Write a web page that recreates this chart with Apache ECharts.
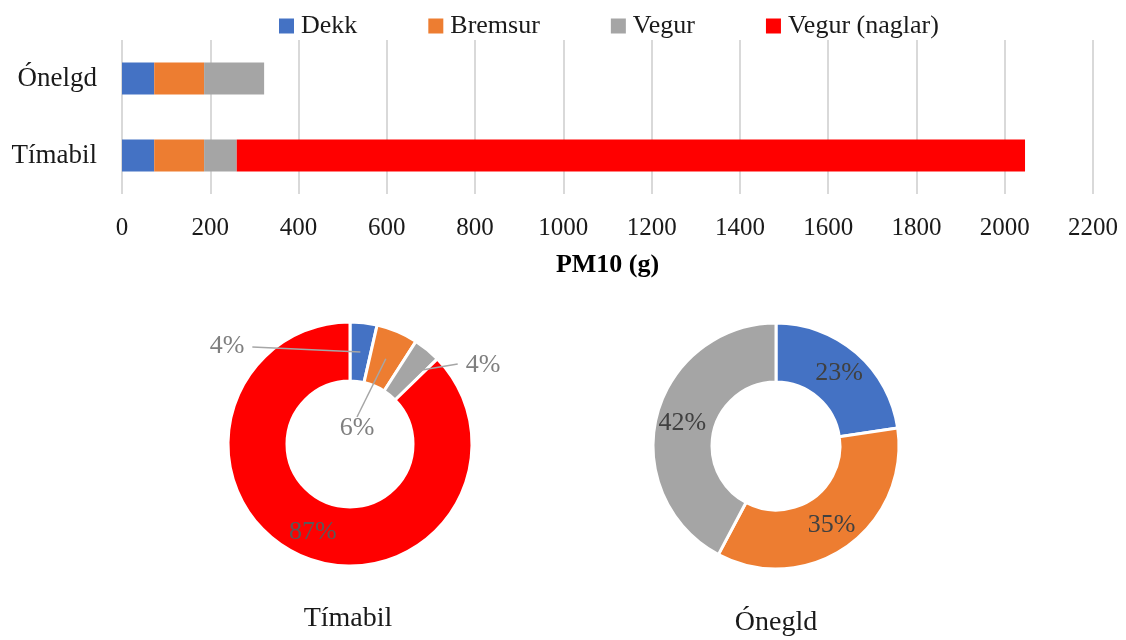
<!DOCTYPE html>
<html>
<head>
<meta charset="utf-8">
<script src="https://cdn.jsdelivr.net/npm/echarts@6/dist/echarts.min.js"></script>
<style>
  html, body { margin: 0; padding: 0; background: #fff; }
  #main { width: 1126px; height: 640px; }
</style>
</head>
<body>
<div id="main"></div>
<script>
// flokkar og gildi (PM10 í grömmum)
const categories = ['Ónelgd', 'Tímabil'];
const seriesNames = ['Dekk', 'Bremsur', 'Vegur', 'Vegur (naglar)'];
const dekk = [73, 73];
const bremsur = [113, 113];
const vegur = [136, 74];
const naglar = [0, 1786];
const xTicks = [0, 200, 400, 600, 800, 1000, 1200, 1400, 1600, 1800, 2000, 2200];
const colors = ['#4472c4', '#ed7d31', '#a5a5a5', '#ff0000'];

const font = 'Liberation Serif';
const chart = echarts.init(document.getElementById('main'));

const barValues = [dekk, bremsur, vegur, naglar];

// pie data built from the same arrays (index 0 = Ónelgd, 1 = Tímabil)
function pieData(idx) {
  return seriesNames.map((n, i) => ({ name: n, value: barValues[i][idx] }))
    .filter(d => d.value > 0);
}

const pctFmt = p => Math.round(p.percent) + '%';

const timabilCenter = [350, 444];
const timabilRadius = [63, 122];

// where the small outside labels of the Tímabil donut sit, and which side the line leaves from
const timabilLabelPos = {
  0: { x: 227, y: 346, side: 'right' },
  1: { x: 357, y: 428, side: 'top' },
  2: { x: 483, y: 365, side: 'left' }
};

const timabilData = pieData(1).map(d => {
  if (d.name === 'Vegur (naglar)') {
    return Object.assign({}, d, {
      label: { position: 'inside', color: '#595959' },
      labelLine: { show: false }
    });
  }
  return d;
});

const option = {
  color: colors,
  textStyle: { fontFamily: font },
  legend: {
    data: seriesNames,
    left: 274,
    top: 8,
    icon: 'rect',
    itemWidth: 15,
    itemHeight: 15,
    itemGap: 71,
    textStyle: { fontFamily: font, fontSize: 26, color: '#1a1a1a', padding: [0, 0, 0, 2] }
  },
  title: [
    { text: 'Tímabil', left: 343, top: 600, textAlign: 'center',
      textStyle: { fontFamily: font, fontSize: 28, fontWeight: 'normal', color: '#1a1a1a' } },
    { text: 'Ónegld', left: 771, top: 604, textAlign: 'center',
      textStyle: { fontFamily: font, fontSize: 28, fontWeight: 'normal', color: '#1a1a1a' } }
  ],
  grid: { left: 122, right: 33, top: 40, height: 154 },
  xAxis: {
    type: 'value',
    min: xTicks[0],
    max: xTicks[xTicks.length - 1],
    interval: 200,
    name: 'PM10 (g)',
    nameLocation: 'middle',
    nameGap: 58,
    nameTextStyle: { fontFamily: font, fontSize: 26, fontWeight: 'bold', color: '#000' },
    axisLine: { show: false },
    axisTick: { show: false },
    axisLabel: { fontFamily: font, fontSize: 25, color: '#1a1a1a', margin: 22,
      formatter: v => String(v) },
    splitLine: { lineStyle: { color: '#d9d9d9', width: 2 } }
  },
  yAxis: {
    type: 'category',
    data: categories,
    inverse: true,
    axisLine: { show: false },
    axisTick: { show: false },
    axisLabel: { fontFamily: font, fontSize: 27, color: '#1a1a1a', margin: 25 }
  },
  series: seriesNames.map((n, i) => ({
    name: n,
    type: 'bar',
    stack: 'total',
    barWidth: 32,
    data: barValues[i],
    itemStyle: { color: colors[i] }
  })).concat([
    {
      // the slices
      type: 'pie',
      name: 'Tímabil',
      z: 2,
      center: timabilCenter,
      radius: timabilRadius,
      startAngle: 90,
      clockwise: true,
      data: pieData(1),
      itemStyle: { borderColor: '#fff', borderWidth: 3 },
      label: { show: false },
      labelLine: { show: false },
      emphasis: { disabled: true }
    },
    {
      // same donut, see-through, only to draw labels and leader lines on top
      type: 'pie',
      name: 'Tímabil merki',
      z: 5,
      silent: true,
      center: timabilCenter,
      radius: timabilRadius,
      startAngle: 90,
      clockwise: true,
      data: timabilData,
      itemStyle: { color: 'rgba(0,0,0,0)', borderWidth: 0 },
      label: {
        show: true,
        position: 'outside',
        formatter: pctFmt,
        fontFamily: font,
        fontSize: 26,
        color: '#7f7f7f'
      },
      labelLine: { show: true, lineStyle: { color: '#a6a6a6', width: 1.5 }, length: 10, length2: 10 },
      labelLayout: function (params) {
        const p = timabilLabelPos[params.dataIndex];
        if (!p || !params.labelLinePoints) return {};
        // point in the middle of the ring, on the slice's mid angle
        const p0 = params.labelLinePoints[0];
        const dx = p0[0] - timabilCenter[0], dy = p0[1] - timabilCenter[1];
        const len = Math.sqrt(dx * dx + dy * dy) || 1;
        const rMid = (timabilRadius[0] + timabilRadius[1]) / 2;
        const inner = [timabilCenter[0] + dx / len * rMid, timabilCenter[1] + dy / len * rMid];
        const w = params.labelRect.width, h = params.labelRect.height;
        let end;
        if (p.side === 'right') end = [p.x + w / 2 + 8, p.y + 1];
        else if (p.side === 'left') end = [p.x - w / 2 - 8, p.y - 1];
        else end = [p.x, p.y - h / 2 + 2];
        return {
          x: p.x, y: p.y, align: 'center', verticalAlign: 'middle',
          labelLinePoints: [inner, end, end]
        };
      },
      emphasis: { disabled: true }
    },
    {
      type: 'pie',
      name: 'Ónegld',
      center: [776, 446],
      radius: [64, 123],
      startAngle: 90,
      clockwise: true,
      data: pieData(0),
      itemStyle: { borderColor: '#fff', borderWidth: 3 },
      label: {
        show: true,
        position: 'inside',
        formatter: pctFmt,
        fontFamily: font,
        fontSize: 26,
        color: '#404040'
      },
      labelLine: { show: false },
      emphasis: { disabled: true }
    }
  ])
};

chart.setOption(option);
</script>
</body>
</html>
